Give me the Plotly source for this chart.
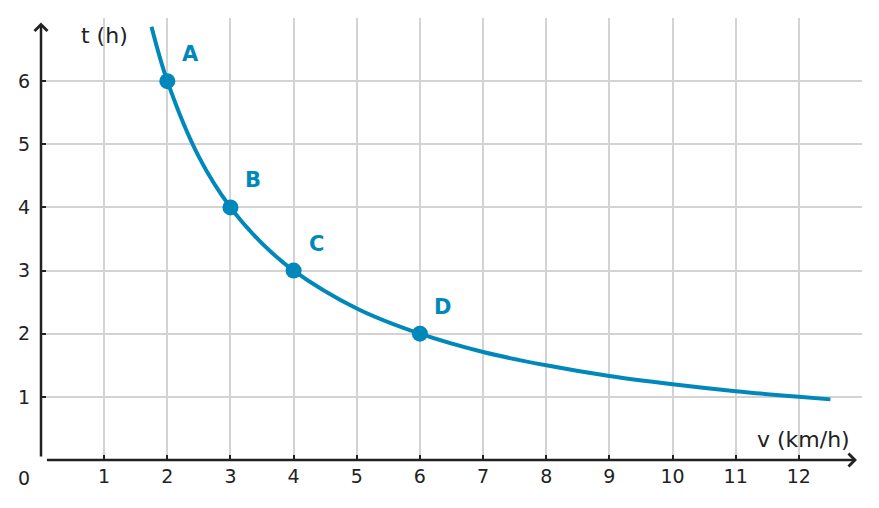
import plotly.graph_objects as go

# curve t over v
curve_v = [1.75, 2, 2.5, 3, 3.5, 4, 5, 6, 7, 8, 9, 10, 11, 12, 12.5]
curve_t = [6.86, 6, 4.8, 4, 3.43, 3, 2.4, 2, 1.71, 1.5, 1.33, 1.2, 1.09, 1.0, 0.96]

# labelled points
point_v = [2, 3, 4, 6]
point_t = [6, 4, 3, 2]
point_names = ["A", "B", "C", "D"]

x_ticks = list(range(0, 13))
y_ticks = list(range(0, 7))

blue = "#0088bb"
dark = "#222222"
font = "DejaVu Sans"

fig = go.Figure()

fig.add_trace(go.Scatter(
    x=curve_v, y=curve_t,
    mode="lines",
    line=dict(color=blue, width=4, shape="spline"),
    hoverinfo="skip"
))

fig.add_trace(go.Scatter(
    x=point_v, y=point_t,
    mode="markers",
    marker=dict(color=blue, size=16)
))

# point labels (up and right of each point)
for v, t, name in zip(point_v, point_t, point_names):
    fig.add_annotation(
        x=v, y=t, text="<b>" + name + "</b>",
        showarrow=False, xshift=23, yshift=27,
        font=dict(family=font, size=21, color=blue)
    )

# axis arrows
fig.add_annotation(x=0, y=6.93, ax=0, ay=0.03, xref="x", yref="y", axref="x", ayref="y",
                   text="", showarrow=True, arrowhead=4, arrowsize=1, arrowwidth=2.5,
                   arrowcolor=dark, standoff=0)
fig.add_annotation(x=12.92, y=0, ax=0.07, ay=0, xref="x", yref="y", axref="x", ayref="y",
                   text="", showarrow=True, arrowhead=4, arrowsize=1, arrowwidth=2.5,
                   arrowcolor=dark, standoff=0)

# axis titles and origin
fig.add_annotation(x=1.0, y=6.73, text="t (h)", showarrow=False, xref="x", yref="y",
                   font=dict(family=font, size=22, color=dark))
fig.add_annotation(x=12.08, y=0.32, text="v (km/h)", showarrow=False, xref="x", yref="y",
                   font=dict(family=font, size=22, color=dark))
fig.add_annotation(x=0, y=0, text="0", showarrow=False, xref="x", yref="y",
                   xshift=-17, yshift=-18,
                   font=dict(family=font, size=19, color=dark))

fig.update_layout(
    width=879, height=508,
    margin=dict(l=41, r=17, t=18, b=48),
    paper_bgcolor="white",
    plot_bgcolor="white",
    showlegend=False,
    font=dict(family=font, size=19, color=dark),
    xaxis=dict(
        range=[0, 13],
        tickvals=x_ticks,
        ticktext=[""] + [str(v) for v in x_ticks[1:]],
        showgrid=True, gridcolor="#d3d3d3", gridwidth=1.5,
        zeroline=False, showline=False,
        ticks="inside", ticklen=5, tickwidth=2, tickcolor=dark,
        ticklabelstandoff=3,
        automargin=False, fixedrange=True
    ),
    yaxis=dict(
        range=[0, 7],
        tickvals=y_ticks,
        ticktext=[""] + [str(t) for t in y_ticks[1:]],
        showgrid=True, gridcolor="#d3d3d3", gridwidth=1.5,
        zeroline=False, showline=False,
        ticks="inside", ticklen=5, tickwidth=2, tickcolor=dark,
        ticklabelstandoff=10,
        automargin=False, fixedrange=True
    )
)

# page body has a default margin, drop it so the chart sits at the window corner
fig.write_html("out.html", config={"displayModeBar": False},
               post_script="document.body.style.margin='0';")
